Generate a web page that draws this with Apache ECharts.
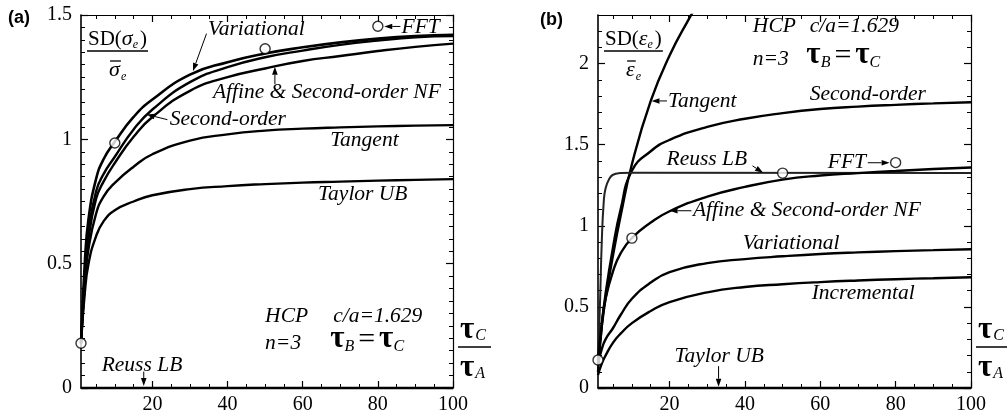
<!DOCTYPE html>
<html>
<head>
<meta charset="utf-8">
<script src="https://cdn.jsdelivr.net/npm/echarts@6/dist/echarts.min.js"></script>
<style>
  html, body { margin: 0; padding: 0; background: #fff; }
  #chart { width: 1007px; height: 418px; }
</style>
</head>
<body>
<div id="chart"></div>
<script>
// ---- data: normalised standard deviation vs. tau_C / tau_A ----
const ratio = [1, 2, 3, 5, 7, 10, 15, 20, 30, 40, 50, 60, 70, 80, 90, 100];

// (a) stress fluctuations SD(sigma_e)/mean
const variationalA = [0.18, 0.50, 0.68, 0.84, 0.92, 0.99, 1.09, 1.16, 1.26, 1.31, 1.345, 1.37, 1.39, 1.405, 1.415, 1.42];
const secondOrderA = [0.18, 0.45, 0.63, 0.79, 0.86, 0.93, 1.04, 1.12, 1.23, 1.29, 1.33, 1.357, 1.38, 1.397, 1.41, 1.415];
const affineA      = [0.18, 0.42, 0.60, 0.76, 0.83, 0.905, 1.01, 1.09, 1.195, 1.25, 1.285, 1.315, 1.335, 1.355, 1.372, 1.385];
const tangentA     = [0.18, 0.42, 0.56, 0.70, 0.77, 0.825, 0.89, 0.94, 0.995, 1.02, 1.035, 1.043, 1.048, 1.052, 1.055, 1.057];
const taylorA      = [0.18, 0.38, 0.50, 0.61, 0.67, 0.715, 0.75, 0.775, 0.80, 0.812, 0.82, 0.826, 0.83, 0.834, 0.837, 0.84];
const reussRatioA  = [1, 100];
const reussA       = [0, 0];
const fftRatio     = [1, 10, 50, 80];
const fftA         = [0.18, 0.985, 1.364, 1.455];

// (b) strain-rate fluctuations SD(eps_e)/mean
const tangentRatioB = [1, 2, 3, 5, 7, 10, 15, 20, 25, 30];
const tangentB      = [0.15, 0.38, 0.55, 0.82, 1.06, 1.38, 1.77, 2.05, 2.27, 2.47];
const secondOrderB  = [0.10, 0.38, 0.58, 0.87, 1.10, 1.34, 1.46, 1.53, 1.61, 1.66, 1.695, 1.72, 1.735, 1.746, 1.755, 1.762];
const reussRatioB   = [1, 1.5, 2, 2.5, 3, 4, 5, 7, 10, 100];
const reussB        = [0.17, 0.5, 0.9, 1.14, 1.23, 1.29, 1.315, 1.325, 1.328, 1.325];
const affineB       = [0.17, 0.40, 0.55, 0.72, 0.83, 0.925, 1.02, 1.09, 1.18, 1.24, 1.285, 1.31, 1.325, 1.338, 1.35, 1.36];
const variationalB  = [0.15, 0.24, 0.30, 0.37, 0.45, 0.55, 0.65, 0.715, 0.77, 0.795, 0.812, 0.826, 0.836, 0.844, 0.85, 0.856];
const incrementalB  = [0.08, 0.15, 0.20, 0.28, 0.335, 0.40, 0.475, 0.53, 0.59, 0.623, 0.64, 0.653, 0.663, 0.671, 0.677, 0.683];
const taylorRatioB  = [1, 100];
const taylorB       = [0, 0];
const fftB          = [0.173, 0.924, 1.325, 1.39];

// ---- ticks ----
const xMajor  = [20, 40, 60, 80, 100];
const yMajorA = [0, 0.5, 1, 1.5];
const yMajorB = [0, 0.5, 1, 1.5, 2];
const xRange  = [1, 100];
const yRangeA = [0, 1.5];
const yRangeB = [0, 2.3];

function steps(lo, hi, step, skip) {
  const out = [];
  for (let v = lo; v <= hi + 1e-9; v += step) {
    const r = Math.round(v * 1000) / 1000;
    if (!skip.some(s => Math.abs(s - r) < 1e-6)) out.push(r);
  }
  return out;
}
const xMinor  = steps(5, 95, 5, xMajor);
const yMinorA = steps(0.05, 1.45, 0.05, yMajorA);
const yMinorB = steps(0.1, 2.3, 0.1, yMajorB);

// ---- styling ----
const SERIF = '"Liberation Serif", "Times New Roman", serif';
const INK = '#000';
const labelStyle = { fontFamily: SERIF, fontSize: 20, color: INK };

function axisSet(kind, g, range, major, minor) {
  const base = { gridIndex: g, type: 'value', min: range[0], max: range[1], splitLine: { show: false }, silent: true };
  const sides = kind === 'x' ? ['bottom', 'top'] : ['left', 'right'];
  const out = [];
  sides.forEach((side, si) => {
    out.push(Object.assign({}, base, {
      position: side,
      axisLine: { show: true, onZero: false, lineStyle: { color: INK, width: si === 0 ? 1.6 : 1.2 } },
      axisTick: { show: true, inside: true, length: 7, customValues: major, lineStyle: { color: INK, width: 1.2 } },
      axisLabel: si === 0
        ? Object.assign({ show: true, customValues: major, margin: kind === 'x' ? 7 : 9 }, labelStyle)
        : { show: false }
    }));
    out.push(Object.assign({}, base, {
      position: side,
      axisLine: { show: false, onZero: false },
      axisTick: { show: true, inside: true, length: 4, customValues: minor, lineStyle: { color: INK, width: 1 } },
      axisLabel: { show: false }
    }));
  });
  return out;
}

function pairs(xs, ys) { return xs.map((x, i) => [x, ys[i]]); }

function curve(g, xs, ys, width, extra) {
  return Object.assign({
    type: 'line', xAxisIndex: g * 4, yAxisIndex: g * 4,
    data: pairs(xs, ys), showSymbol: false, symbol: 'none',
    smooth: 0.5,
    lineStyle: { color: INK, width: width || 2.4 },
    silent: true, animation: false, z: 3
  }, extra || {});
}

function fft(g, ys) {
  return {
    type: 'scatter', xAxisIndex: g * 4, yAxisIndex: g * 4,
    data: pairs(fftRatio, ys), symbol: 'circle', symbolSize: 10, clip: false,
    itemStyle: { color: '#fff', borderColor: INK, borderWidth: 1.4 },
    silent: true, animation: false, z: 5
  };
}

const chart = echarts.init(document.getElementById('chart'), null, { renderer: 'canvas' });

chart.setOption({
  backgroundColor: '#fff',
  animation: false,
  grid: [
    { left: 81, top: 15, width: 372, height: 373, outerBoundsMode: 'none', containLabel: false },
    { left: 598, top: 15, width: 373, height: 373, outerBoundsMode: 'none', containLabel: false }
  ],
  xAxis: [].concat(
    axisSet('x', 0, xRange, xMajor, xMinor),
    axisSet('x', 1, xRange, xMajor, xMinor)
  ),
  yAxis: [].concat(
    axisSet('y', 0, yRangeA, yMajorA, yMinorA),
    axisSet('y', 1, yRangeB, yMajorB, yMinorB)
  ),
  series: [
    curve(0, ratio, variationalA, 2.6),
    curve(0, ratio, secondOrderA, 2.4),
    curve(0, ratio, affineA, 2.4),
    curve(0, ratio, tangentA, 2.4),
    curve(0, ratio, taylorA, 2.4),
    curve(0, reussRatioA, reussA, 2.4, { clip: false, smooth: false }),
    fft(0, fftA),

    curve(1, tangentRatioB, tangentB, 2.4),
    curve(1, ratio, secondOrderB, 2.4),
    curve(1, reussRatioB, reussB, 2.0, { lineStyle: { color: '#222', width: 2.0 } }),
    curve(1, ratio, affineB, 2.4),
    curve(1, ratio, variationalB, 2.4),
    curve(1, ratio, incrementalB, 2.4),
    curve(1, taylorRatioB, taylorB, 2.4, { clip: false, smooth: false }),
    fft(1, fftB)
  ]
});

// ---- annotations (positions given in data units of each panel) ----
const measureCtx = document.createElement('canvas').getContext('2d');
function textWidth(font, s) { measureCtx.font = font; return measureCtx.measureText(s).width; }
function P(g, x, y) { return chart.convertToPixel({ xAxisIndex: g * 4, yAxisIndex: g * 4 }, [x, y]); }

const F_IT = 'italic 21.5px ' + SERIF;
const F_UP = '21px ' + SERIF;
const F_TAU = 'bold 31px ' + SERIF;
const F_SUB = 'italic 16px ' + SERIF;
const F_E = 'italic 12px ' + SERIF;

function txt(x, y, s, font, extra) {
  return {
    type: 'text', x: x, y: y, silent: true, z: 20,
    style: Object.assign({ text: s, font: font, fill: INK, align: 'left', verticalAlign: 'middle',
      textAlign: 'left', textVerticalAlign: 'middle' }, extra || {})
  };
}
function runs(x0, y, parts, out) {
  let x = x0;
  parts.forEach(p => {
    out.push(txt(x + (p.dx || 0), y + (p.dy || 0), p.t, p.f));
    x += (p.dx || 0) + textWidth(p.f, p.t) + (p.gap || 0);
  });
  return x - x0;
}
function arrow(a, b, out) {
  const dx = b[0] - a[0], dy = b[1] - a[1], L = Math.hypot(dx, dy);
  const ux = dx / L, uy = dy / L, hl = 8, hw = 2.8;
  const bx = b[0] - ux * hl, by = b[1] - uy * hl;
  out.push({ type: 'line', silent: true, z: 20, shape: { x1: a[0], y1: a[1], x2: bx, y2: by },
    style: { stroke: INK, lineWidth: 1 } });
  out.push({ type: 'polygon', silent: true, z: 20,
    shape: { points: [[b[0], b[1]], [bx - uy * hw, by + ux * hw], [bx + uy * hw, by - ux * hw]] },
    style: { fill: INK } });
}
function hline(x1, x2, y, out, w) {
  out.push({ type: 'line', silent: true, z: 20, shape: { x1: x1, y1: y, x2: x2, y2: y },
    style: { stroke: INK, lineWidth: w || 1.3 } });
}

const labelsA = [
  { t: 'Variational', at: [34.8, 1.442] },
  { t: 'FFT', at: [86.3, 1.452] },
  { t: 'Affine & Second-order NF', at: [36.1, 1.188] },
  { t: 'Second-order', at: [24.6, 1.079] },
  { t: 'Tangent', at: [67.3, 0.995] },
  { t: 'Taylor UB', at: [64.1, 0.777] },
  { t: 'HCP', at: [50, 0.288] },
  { t: 'c/a=1.629', at: [68.1, 0.288] },
  { t: 'n=3', at: [50, 0.181] },
  { t: 'Reuss LB', at: [6.5, 0.093] }
];
const arrowsA = [
  { from: [34.4, 1.425], to: [30.8, 1.275] },
  { from: [86.0, 1.454], to: [81.7, 1.454] },
  { from: [52.6, 1.222], to: [52.6, 1.292] },
  { from: [24.0, 1.079], to: [18.5, 1.100] },
  { from: [17.7, 0.066], to: [17.7, 0.008] }
];
const labelsB = [
  { t: 'HCP', at: [42.1, 2.228] },
  { t: 'c/a=1.629', at: [57.2, 2.228] },
  { t: 'n=3', at: [42.1, 2.028] },
  { t: 'Tangent', at: [19.6, 1.77] },
  { t: 'Second-order', at: [57.2, 1.81] },
  { t: 'Reuss LB', at: [19.2, 1.407] },
  { t: 'FFT', at: [62.0, 1.389] },
  { t: 'Affine & Second-order NF', at: [26.2, 1.093] },
  { t: 'Variational', at: [39.4, 0.895] },
  { t: 'Incremental', at: [57.7, 0.586] },
  { t: 'Taylor UB', at: [21.3, 0.198] }
];
const arrowsB = [
  { from: [19.3, 1.77], to: [15.2, 1.77] },
  { from: [42.0, 1.37], to: [44.8, 1.328] },
  { from: [72.6, 1.389], to: [78.4, 1.389] },
  { from: [25.8, 1.093], to: [20.0, 1.093] },
  { from: [33.0, 0.135], to: [33.0, 0.008] }
];

function drawAnnotations() {
  const els = [];
  [[0, labelsA, arrowsA], [1, labelsB, arrowsB]].forEach(([g, labels, arrows]) => {
    labels.forEach(l => { const p = P(g, l.at[0], l.at[1]); els.push(txt(p[0], p[1], l.t, F_IT)); });
    arrows.forEach(a => arrow(P(g, a.from[0], a.from[1]), P(g, a.to[0], a.to[1]), els));
  });

  // tau_B = tau_C after "n=3"
  [[0, [67.3, 0.181]], [1, [56.3, 2.028]]].forEach(([g, at]) => {
    const p = P(g, at[0], at[1]);
    runs(p[0], p[1], [
      { t: '\u03C4', f: F_TAU, dy: -4 },
      { t: 'B', f: F_SUB, dy: 4, gap: 4 },
      { t: '=', f: '30px ' + SERIF, dy: -3, gap: 4 },
      { t: '\u03C4', f: F_TAU, dy: -4 },
      { t: 'C', f: F_SUB, dy: 4 }
    ], els);
  });

  // y-axis titles: SD(x_e) over mean
  [[0, '\u03C3'], [1, '\u03B5']].forEach(([g, sym]) => {
    const c = P(g, 1, g === 0 ? 1.5 : 2.3);
    const x0 = c[0] + 7, yNum = c[1] + 24;
    const w = runs(x0, yNum, [
      { t: 'SD(', f: F_UP },
      { t: sym, f: 'italic 22px ' + SERIF, gap: 0 },
      { t: 'e', f: F_E, dy: 6, gap: 2 },
      { t: ')', f: F_UP }
    ], els);
    hline(x0 - 1, x0 + w + 1, c[1] + 36, els, 1.3);
    const sw = textWidth('italic 22px ' + SERIF, sym);
    const dx = x0 + w / 2 - sw / 2 - 3;
    const yDen = c[1] + 55;
    els.push(txt(dx, yDen, sym, 'italic 22px ' + SERIF));
    hline(dx + 1, dx + sw + 1, yDen - 9, els, 1.3);
    els.push(txt(dx + sw + 1, yDen + 7, 'e', F_E));
  });

  // x-axis titles: tau_C over tau_A
  [0, 1].forEach(g => {
    const c = P(g, 100, 0);
    const x0 = c[0] + 7;
    runs(x0, c[1] - 58, [{ t: '\u03C4', f: F_TAU, gap: 1 }, { t: 'C', f: F_SUB, dy: 6 }], els);
    hline(c[0] + 5, c[0] + 38, c[1] - 41, els, 1.3);
    runs(x0, c[1] - 20, [{ t: '\u03C4', f: F_TAU, gap: 1 }, { t: 'A', f: F_SUB, dy: 6 }], els);
  });

  // panel letters
  const a0 = P(0, 1, 1.5), b0 = P(1, 1, 2.3);
  els.push(txt(a0[0] - 73, a0[1] + 3, '(a)', 'bold 18px "Liberation Sans", Arial, sans-serif'));
  els.push(txt(b0[0] - 58, b0[1] + 5, '(b)', 'bold 18px "Liberation Sans", Arial, sans-serif'));

  chart.setOption({ graphic: { elements: els } });
}
drawAnnotations();
</script>
</body>
</html>
